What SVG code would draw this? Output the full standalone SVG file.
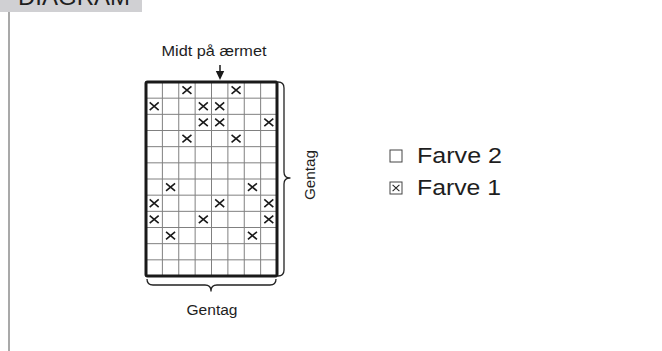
<svg xmlns="http://www.w3.org/2000/svg" xmlns:xlink="http://www.w3.org/1999/xlink" width="662" height="351" viewBox="0 0 662 351">
  <style>
    .txt { font-family: "Liberation Sans", Arial, sans-serif; fill: #1e1e1e; }
    .thin { stroke: #808080; stroke-width: 1; fill: none; }
    .thick { stroke: #1a1a1a; stroke-width: 3; fill: none; stroke-linejoin: round; }
    .xm { stroke: #1a1a1a; stroke-width: 1.6; fill: none; }
    .brace { stroke: #222; stroke-width: 1.3; fill: none; stroke-linejoin: round; }
    .lbox { stroke: #444; stroke-width: 1; fill: #fff; }
  </style>
  <defs>
    <path id="xm" class="xm" d="M-4.5,-3.8 L4.5,3.8 M4.5,-3.8 L-4.5,3.8"/>
  </defs>
  <rect width="662" height="351" fill="#ffffff"/>

  <g id="header">
    <rect x="0" y="0" width="142" height="12" fill="#d0d0d3"/>
    <text class="txt" x="18" y="4.5" font-size="23" textLength="112" lengthAdjust="spacingAndGlyphs" fill="#111">DIAGRAM</text>
    <line x1="9" y1="12" x2="9" y2="351" stroke="#8c8c8c" stroke-width="1.5"/>
  </g>

  <g id="chart">
    <g id="grid-lines" class="thin">
      <path d="M162.375,82V276M178.75,82V276M195.125,82V276M211.5,82V276M227.875,82V276M244.25,82V276M260.625,82V276"/>
      <path d="M146,98.17H277M146,114.33H277M146,130.5H277M146,146.67H277M146,162.83H277M146,179H277M146,195.17H277M146,211.33H277M146,227.5H277M146,243.67H277M146,259.83H277"/>
    </g>
    <g id="marks">
      <use xlink:href="#xm" x="186.94" y="90.08"/>
      <use xlink:href="#xm" x="236.06" y="90.08"/>
      <use xlink:href="#xm" x="154.19" y="106.25"/>
      <use xlink:href="#xm" x="203.31" y="106.25"/>
      <use xlink:href="#xm" x="219.69" y="106.25"/>
      <use xlink:href="#xm" x="203.31" y="122.42"/>
      <use xlink:href="#xm" x="219.69" y="122.42"/>
      <use xlink:href="#xm" x="268.81" y="122.42"/>
      <use xlink:href="#xm" x="186.94" y="138.58"/>
      <use xlink:href="#xm" x="236.06" y="138.58"/>
      <use xlink:href="#xm" x="170.56" y="187.08"/>
      <use xlink:href="#xm" x="252.44" y="187.08"/>
      <use xlink:href="#xm" x="154.19" y="203.25"/>
      <use xlink:href="#xm" x="219.69" y="203.25"/>
      <use xlink:href="#xm" x="268.81" y="203.25"/>
      <use xlink:href="#xm" x="154.19" y="219.42"/>
      <use xlink:href="#xm" x="203.31" y="219.42"/>
      <use xlink:href="#xm" x="268.81" y="219.42"/>
      <use xlink:href="#xm" x="170.56" y="235.58"/>
      <use xlink:href="#xm" x="252.44" y="235.58"/>
    </g>
    <rect id="border" class="thick" x="146" y="82" width="131" height="194" rx="1.5"/>
  </g>

  <g id="top-label">
    <text class="txt" x="214" y="56" font-size="15" text-anchor="middle" textLength="105" lengthAdjust="spacingAndGlyphs">Midt på ærmet</text>
    <line x1="220" y1="65" x2="220" y2="72" stroke="#1a1a1a" stroke-width="1.5"/>
    <polygon points="215.8,71 224.2,71 220,80" fill="#1a1a1a"/>
  </g>

  <g id="connectors">
    <path id="brace-right" class="brace" d="M278,82 Q284,82 284,88 V172 Q284,178 290,178 Q284,178 284,184 V270 Q284,276 278,276"/>
    <path id="brace-bottom" class="brace" d="M147,279 Q147,285 153,285 H205 Q211,285 211,291 Q211,285 217,285 H270 Q276,285 276,279"/>
  </g>

  <g id="label-right">
    <text class="txt" transform="translate(315,175) rotate(-90)" font-size="15.5" text-anchor="middle" textLength="50" lengthAdjust="spacingAndGlyphs">Gentag</text>
  </g>
  <g id="label-bottom">
    <text class="txt" x="212" y="315" font-size="15.5" text-anchor="middle" textLength="51" lengthAdjust="spacingAndGlyphs">Gentag</text>
  </g>

  <g id="legend">
    <g id="legend-farve2">
      <rect class="lbox" x="390" y="150" width="12" height="12"/>
      <text class="txt" x="417" y="163" font-size="22" textLength="85" lengthAdjust="spacingAndGlyphs">Farve 2</text>
    </g>
    <g id="legend-farve1">
      <rect class="lbox" x="390" y="182" width="12" height="12"/>
      <path d="M392.6,184.8 L399.4,191.2 M399.4,184.8 L392.6,191.2" stroke="#222" stroke-width="1.1" fill="none"/>
      <text class="txt" x="417" y="195" font-size="22" textLength="84" lengthAdjust="spacingAndGlyphs">Farve 1</text>
    </g>
  </g>
</svg>
